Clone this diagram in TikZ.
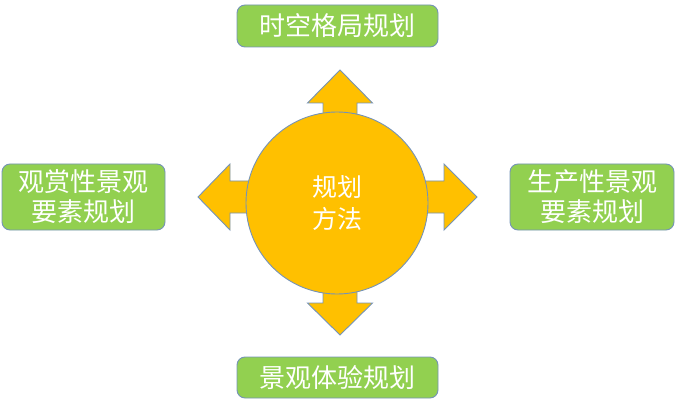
\documentclass[tikz,border=0pt]{standalone}
\usepackage{fontspec}
\newfontfamily\cjk{Noto Sans CJK SC}
\definecolor{boxgreen}{HTML}{92D050}
\definecolor{edgeblue}{HTML}{7593B7}
\definecolor{amber}{HTML}{FFC000}
\tikzset{
  greenbox/.style={draw=edgeblue, line width=0.9pt, fill=boxgreen, rounded corners=8pt,
    text=white, font=\cjk\fontsize{26}{30}\selectfont, align=center, inner sep=0pt},
  arrowshape/.style={draw=edgeblue, line width=0.9pt, fill=amber, line join=miter},
}
\begin{document}
\begin{tikzpicture}[x=1pt,y=-1pt]
\useasboundingbox (0,0) rectangle (675,409);
% boxes
\node[greenbox, minimum width=201pt, minimum height=42pt] (top) at (337.5,26) {时空格局规划};
\node[greenbox, minimum width=201pt, minimum height=41pt] (bottom) at (337.5,377.5) {景观体验规划};
\node[greenbox, minimum width=163pt, minimum height=66pt] (left) at (83.5,197) {观赏性景观\\要素规划};
\node[greenbox, minimum width=164pt, minimum height=66pt] (right) at (592,197) {生产性景观\\要素规划};
% arrows
\draw[arrowshape] (323,150) -- (323,103) -- (307.5,103) -- (340,70) -- (372.5,103) -- (357,103) -- (357,150) -- cycle;
\draw[arrowshape] (323,260) -- (323,303) -- (307.5,303) -- (340,335) -- (372.5,303) -- (357,303) -- (357,260) -- cycle;
\draw[arrowshape] (260,181) -- (230,181) -- (230,164) -- (198,197) -- (230,230) -- (230,213) -- (260,213) -- cycle;
\draw[arrowshape] (420,181) -- (444,181) -- (444,164) -- (477,197) -- (444,230) -- (444,213) -- (420,213) -- cycle;
% circle
\node[circle, draw=edgeblue, line width=0.9pt, fill=amber, minimum size=182pt, inner sep=0pt,
  text=white, font=\cjk\fontsize{25}{32}\selectfont, align=center] (c) at (337,203) {规划\\方法};
\end{tikzpicture}
\end{document}
